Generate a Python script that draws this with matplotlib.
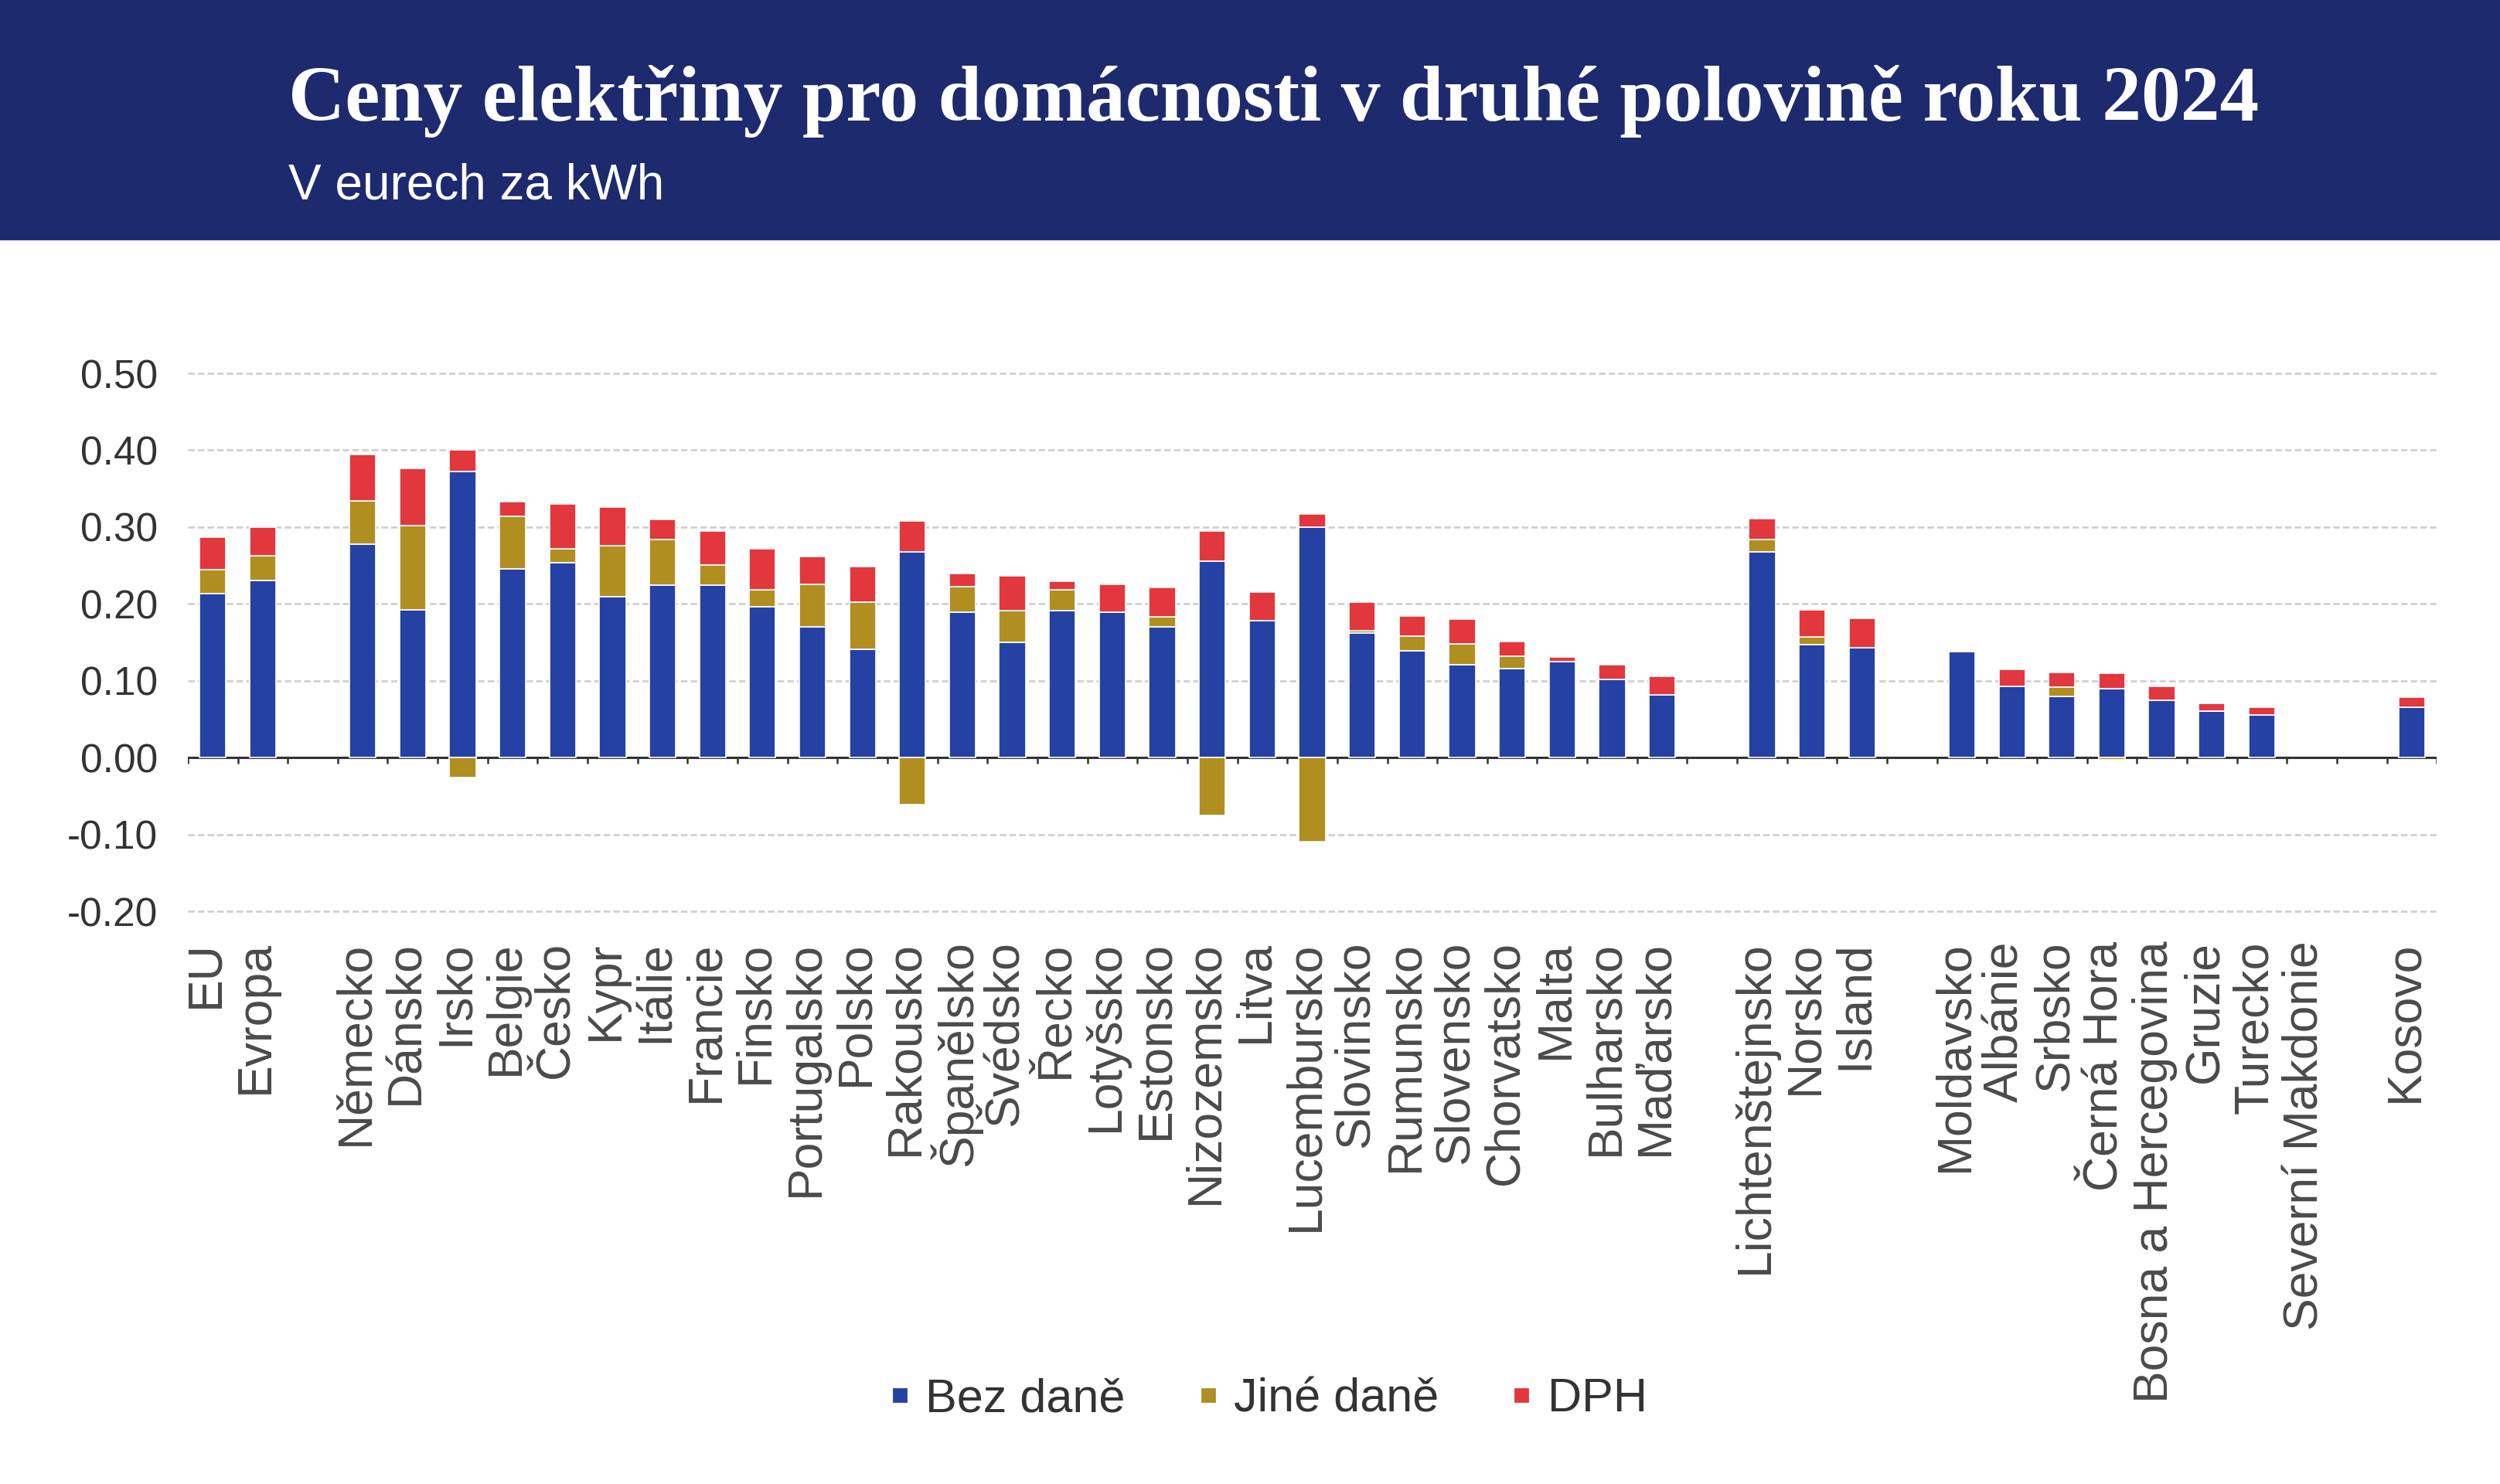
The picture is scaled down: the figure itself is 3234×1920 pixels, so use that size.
"""Ceny elektřiny pro domácnosti, 2. pololetí 2024 — skládaný sloupcový graf."""
import matplotlib
matplotlib.use("Agg")
import matplotlib.pyplot as plt
import matplotlib.transforms as mtransforms
from matplotlib.lines import Line2D
import numpy as np

plt.rcParams["font.family"] = ["Liberation Sans", "DejaVu Sans"]

nan = np.nan
# prázdné řetězce = mezery mezi skupinami zemí
countries = ["EU", "Evropa", "",
             "Německo", "Dánsko", "Irsko", "Belgie", "Česko", "Kypr", "Itálie", "Francie",
             "Finsko", "Portugalsko", "Polsko", "Rakousko", "Španělsko", "Švédsko", "Řecko",
             "Lotyšsko", "Estonsko", "Nizozemsko", "Litva", "Lucembursko", "Slovinsko",
             "Rumunsko", "Slovensko", "Chorvatsko", "Malta", "Bulharsko", "Maďarsko", "",
             "Lichtenštejnsko", "Norsko", "Island", "",
             "Moldavsko", "Albánie", "Srbsko", "Černá Hora", "Bosna a Hercegovina",
             "Gruzie", "Turecko", "Severní Makdonie", "",
             "Kosovo"]
bez_dane = [0.213, 0.231, nan,
            0.278, 0.192, 0.372, 0.246, 0.254, 0.209, 0.224, 0.224,
            0.196, 0.170, 0.141, 0.268, 0.189, 0.150, 0.191,
            0.189, 0.170, 0.256, 0.178, 0.300, 0.162,
            0.139, 0.121, 0.116, 0.125, 0.102, 0.082, nan,
            0.268, 0.147, 0.143, nan,
            0.138, 0.093, 0.080, 0.090, 0.075,
            0.061, 0.056, nan, nan,
            0.066]
jine_dane = [0.032, 0.032, nan,
             0.056, 0.110, -0.026, 0.068, 0.018, 0.067, 0.060, 0.027,
             0.022, 0.055, 0.061, -0.061, 0.033, 0.041, 0.027,
             0.0, 0.013, -0.075, 0.0, -0.109, 0.003,
             0.019, 0.027, 0.016, 0.0, 0.0, 0.0, nan,
             0.016, 0.010, 0.0, nan,
             0.0, 0.0, 0.012, -0.003, 0.0,
             0.0, 0.0, nan, nan,
             0.0]
dph = [0.042, 0.037, nan,
       0.060, 0.074, 0.028, 0.019, 0.058, 0.050, 0.026, 0.044,
       0.054, 0.037, 0.047, 0.040, 0.018, 0.046, 0.012,
       0.037, 0.038, 0.039, 0.037, 0.017, 0.037,
       0.026, 0.032, 0.019, 0.006, 0.019, 0.024, nan,
       0.027, 0.035, 0.038, nan,
       0.0, 0.022, 0.019, 0.020, 0.018,
       0.010, 0.010, nan, nan,
       0.013]

NAVY = "#1e2a6e"
BLUE = "#2541a4"
GOLD = "#b08e20"
RED = "#e2373d"

blue = np.array(bez_dane)
gold = np.array(jine_dane)
red = np.array(dph)
x = np.arange(len(countries))

fig = plt.figure(figsize=(16.17, 9.6), dpi=200)
fig.patch.set_facecolor("white")

# hlavička
fig.patches.append(plt.Rectangle((0, 0.839), 1, 0.161, transform=fig.transFigure,
                                 color=NAVY, zorder=0))
fig.text(0.1153, 0.919, "Ceny elektřiny pro domácnosti v druhé polovině roku 2024",
         family=["Liberation Serif", "DejaVu Serif"], fontweight="bold", fontsize=36.5,
         color="white", va="baseline")
fig.text(0.1153, 0.866, "V eurech za kWh", fontsize=23, color="white", va="baseline")

ax = fig.add_axes([0.0751, 0.3833, 0.8996, 0.3677])
w = 0.53
ax.bar(x, blue, w, color=BLUE, edgecolor="white", linewidth=0.6, zorder=3)
gold_bottom = np.where(gold >= 0, blue, 0)
ax.bar(x, gold, w, bottom=gold_bottom, color=GOLD, edgecolor="white", linewidth=0.6, zorder=3)
red_bottom = blue + np.clip(gold, 0, None)
ax.bar(x, red, w, bottom=red_bottom, color=RED, edgecolor="white", linewidth=0.6, zorder=3)

ax.set_xlim(-0.5, len(countries) - 0.5)
ax.set_ylim(-0.205, 0.505)
ax.set_yticks(np.arange(-0.2, 0.51, 0.1))
ax.set_yticklabels([f"{v:.2f}" for v in np.arange(-0.2, 0.51, 0.1)])
ax.tick_params(axis="y", length=0, pad=14, labelsize=18.5, labelcolor="#333333")
ax.yaxis.grid(True, color="#d0d0d0", ls=(0, (3, 1.5)), lw=1.0, zorder=0)
for s in ax.spines.values():
    s.set_visible(False)

# nulová osa s dílky na hranicích kategorií
ax.axhline(0, color="#333333", lw=1.1, zorder=2)
ax.vlines(np.arange(len(countries) + 1) - 0.5, -0.008, 0, color="#333333", lw=0.9, zorder=2)

ax.set_xticks(x)
ax.set_xticklabels(countries, rotation=90, fontsize=22.5, color="#4a4a4a")
ax.tick_params(axis="x", length=0, pad=12)
off = mtransforms.ScaledTranslation(-0.045, 0, fig.dpi_scale_trans)
for lbl in ax.get_xticklabels():
    lbl.set_transform(lbl.get_transform() + off)

handles = [Line2D([], [], ls="", marker="s", markersize=6, color=c) for c in (BLUE, GOLD, RED)]
fig.legend(handles, ["Bez daně", "Jiné daně", "DPH"], loc="center", bbox_to_anchor=(0.507, 0.057),
           ncol=3, frameon=False, fontsize=22, handlelength=0.5, handletextpad=0.3,
           columnspacing=1.5, labelcolor="#333333")

fig.savefig("out.png", dpi=200, facecolor="white")
